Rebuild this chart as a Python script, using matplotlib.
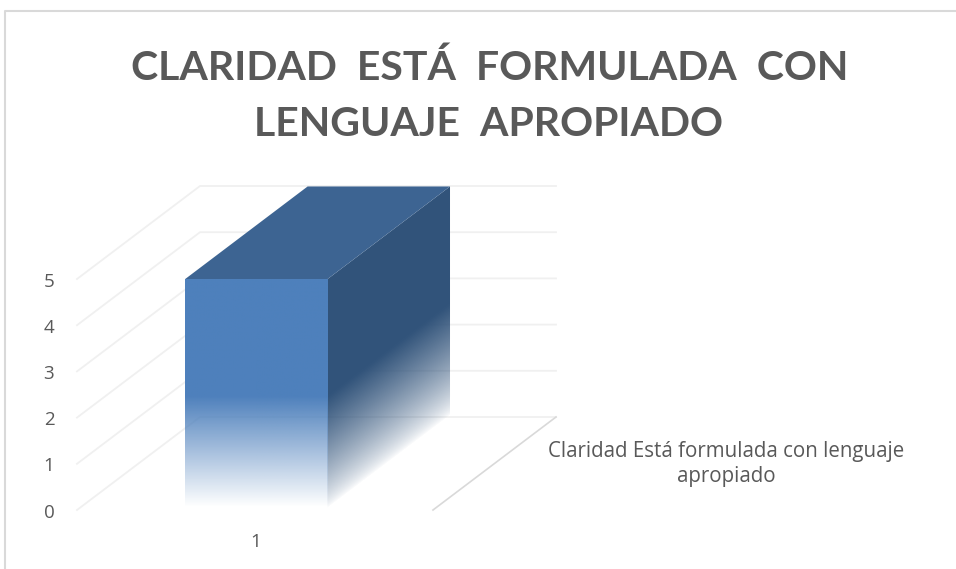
import numpy as np
import matplotlib
matplotlib.use('Agg')
import matplotlib.pyplot as plt
from matplotlib.collections import PolyCollection
from matplotlib.patches import Polygon

plt.rcParams['font.family'] = ['Lato', 'DejaVu Sans']

#chart data
title_lines = ['CLARIDAD  ESTÁ  FORMULADA  CON', 'LENGUAJE  APROPIADO']
series_name = 'Claridad Está formulada con lenguaje\napropiado'
categories = ['1']
values = [5]
y_ticks = [0, 1, 2, 3, 4, 5]

#3d box layout, in pixels of the picture
x0, y0 = 77, 510
plot_w = 356
unit_h = 46.2
depth_x, depth_y = 123, -93
bar_frac = 0.4
bar_depth = 0.995
fade_from = 2.45
fade_to = 0.05

text_col = '#595959'
grid_col = '#f0f0f0'
floor_col = '#d9d9d9'
front_col = np.array([78, 128, 188]) / 255
side_col = np.array([49, 83, 122]) / 255
top_col = np.array([61, 100, 146]) / 255


#oblique projection: c = category axis 0-1, v = value, d = depth 0-1
def proj(c, v, d=0.0):
    return x0 + c * plot_w + d * depth_x, y0 - v * unit_h + d * depth_y


def fade_alpha(v, power=1.0):
    return np.clip((v - fade_to) / (fade_from - fade_to), 0, 1) ** power


fig = plt.figure(figsize=(9.56, 5.69), dpi=100)
ax = fig.add_axes([0, 0, 1, 1])

#outer chart border
ax.plot([5.5, 5.5, 956], [569, 10.5, 10.5], color='#d9d9d9', lw=1.5, zorder=1)

#gridlines on side wall and back wall
for t in y_ticks:
    ax.plot(*zip(proj(0, t), proj(0, t, 1), proj(1, t, 1)), color=grid_col, lw=1.3, zorder=1)
    ax.text(49, proj(0, t)[1] + 2.5, str(t), color=text_col, fontsize=13.5, family='Open Sans', ha='center', va='center')

#floor front edge on the right side
ax.plot(*zip(proj(1, 0), proj(1, 0, 1)), color=floor_col, lw=1.2, zorder=1)

#the bar, front and side are images so the fade runs smoothly along the value axis
for i, val in enumerate(values):
    c_mid = (i + 0.504) / len(values)
    c1 = c_mid - bar_frac / 2
    c2 = c_mid + bar_frac / 2

    #side face: fade follows the skew of the face
    sx1, sy1 = proj(c2, 0)
    sx2, sy2 = proj(c2, val, bar_depth)
    xs = np.arange(int(sx1) - 1, int(sx2) + 2) + 0.5
    ys = np.arange(int(sy2) - 1, int(sy1) + 2) + 0.5
    px, py = np.meshgrid(xs, ys)
    d = (px - sx1) / depth_x
    v = (y0 - py + d * depth_y) / unit_h
    img = np.zeros(px.shape + (4,))
    img[..., :3] = side_col
    img[..., 3] = fade_alpha(v, 0.75)
    im = ax.imshow(img, extent=(xs[0] - 0.5, xs[-1] + 0.5, ys[-1] + 0.5, ys[0] - 0.5),
                   interpolation='bilinear', zorder=2)
    im.set_clip_path(Polygon([proj(c2, 0), proj(c2, 0, bar_depth), proj(c2, val, bar_depth), proj(c2, val)],
                             transform=ax.transData))

    #front face
    fx1, fy1 = proj(c1, 0)
    fx2, fy2 = proj(c2, val)
    ys = np.arange(int(fy2), int(fy1) + 1) + 0.5
    img = np.zeros((len(ys), 1, 4))
    img[..., :3] = front_col
    img[:, 0, 3] = fade_alpha((y0 - ys) / unit_h)
    ax.imshow(img, extent=(fx1, fx2, fy1, fy2), aspect='auto', interpolation='bilinear', zorder=3)

    top = [proj(c1, val), proj(c2, val), proj(c2, val, bar_depth), proj(c1, val, bar_depth)]
    ax.add_collection(PolyCollection([top], facecolors=[top_col], edgecolors='none', zorder=3))
    ax.text(proj(c_mid, 0)[0] - 1, 542, categories[i], color=text_col, fontsize=13.5, family='Open Sans',
            ha='center', va='center')

#series name on the depth axis
ax.text(726, 464, series_name, color=text_col, fontsize=14.8, family='Open Sans', ha='center', va='center',
        linespacing=1.2)

#title
ax.text(490, 80, title_lines[0], color=text_col, fontsize=29.5, fontweight='bold', ha='center', va='baseline')
ax.text(489, 136, title_lines[1], color=text_col, fontsize=29.5, fontweight='bold', ha='center', va='baseline')

ax.set_xlim(0, 956)
ax.set_ylim(569, 0)
ax.set_aspect('auto')
ax.axis('off')

fig.savefig('out.png', dpi=100)
